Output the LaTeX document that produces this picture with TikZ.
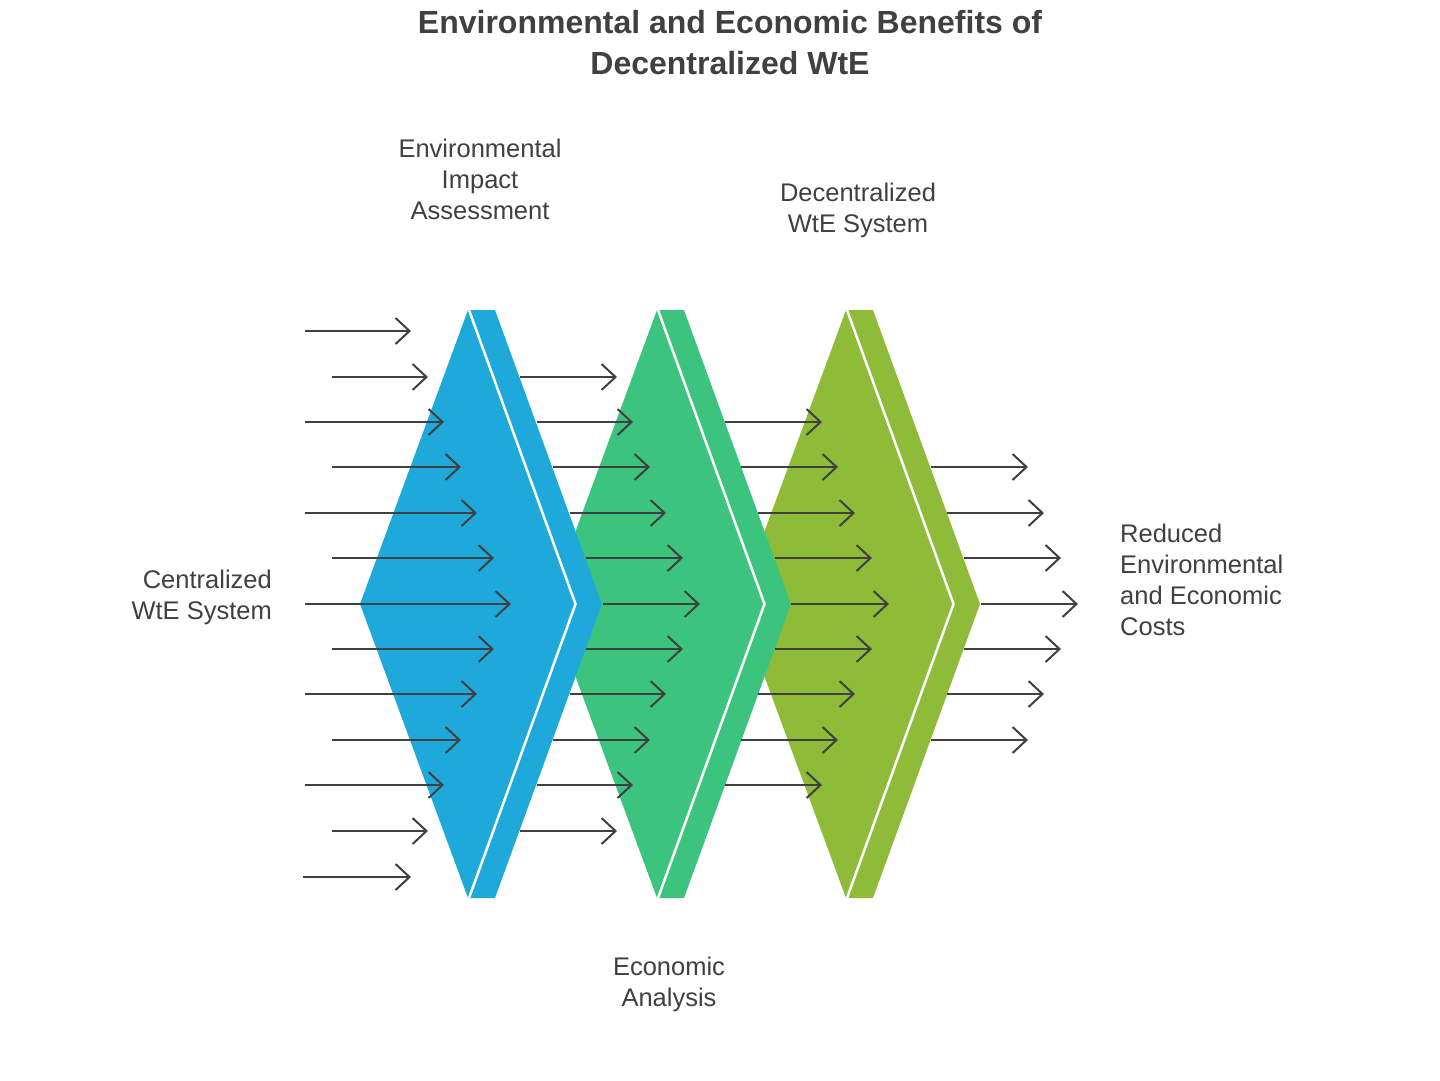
\documentclass[tikz,border=0pt]{standalone}
\usepackage{fontspec}
\setmainfont{Liberation Sans}
\usetikzlibrary{arrows.meta}
\definecolor{cblue}{HTML}{1FA9DB}
\definecolor{cgreen}{HTML}{3CC47F}
\definecolor{colive}{HTML}{8EBB38}
\definecolor{ctext}{HTML}{404040}
\tikzset{
  flowarrow/.style={draw=ctext, line width=2pt, -{Straight Barb[length=14pt,width=26pt,line width=2pt]}},
  sepline/.style={draw=white, line width=2.5pt},
  lbl/.style={text=ctext, font=\fontsize{25.5}{31}\selectfont, inner sep=0pt},
  ttl/.style={text=ctext, font=\fontsize{32}{41}\selectfont\bfseries, inner sep=0pt, align=center}
}
\begin{document}
\begin{tikzpicture}[x=1pt,y=-1pt]
\useasboundingbox (0,0) rectangle (1440,1080);
\fill[white] (0,0) rectangle (1440,1080);
% shapes
\fill[colive] (846,310) -- (873,310) -- (980,604) -- (873,898) -- (846,898) -- (765,678) -- (765,530) -- cycle;
\fill[cgreen] (657,310) -- (684,310) -- (791,604) -- (684,898) -- (657,898) -- (576,678) -- (576,530) -- cycle;
\fill[cblue] (468,310) -- (495,310) -- (602,604) -- (495,898) -- (468,898) -- (360,604) -- cycle;
\draw[sepline] (469,310) -- (575.5,604) -- (469,898);
\draw[sepline] (658,310) -- (764.5,604) -- (658,898);
\draw[sepline] (847,310) -- (953.5,604) -- (847,898);
% arrows group 1
\foreach \y/\a/\b in {331/305/411, 377/332/428, 422/305/444, 467/332/461, 513/305/477, 558/332/494, 604/305/511, 649/332/494, 694/305/477, 740/332/461, 785/305/444, 831/332/428, 877/303/411}{
  \coordinate (s) at (\a,\y); \coordinate (e) at (\b,\y);
  \draw[flowarrow] (s) -- (e);
}
% group 2
\foreach \y/\a/\b in {377/520/617, 422/537/633, 467/553/650, 513/570/666, 558/586/683, 604/603/700, 649/586/683, 694/570/666, 740/553/650, 785/537/633, 831/520/617}{
  \coordinate (s) at (\a,\y); \coordinate (e) at (\b,\y);
  \draw[flowarrow] (s) -- (e);
}
% group 3
\foreach \y/\a/\b in {422/725/822, 467/741/838, 513/758/855, 558/775/872, 604/791/889, 649/775/872, 694/758/855, 740/741/838, 785/725/822}{
  \coordinate (s) at (\a,\y); \coordinate (e) at (\b,\y);
  \draw[flowarrow] (s) -- (e);
}
% group 4
\foreach \y/\a/\b in {467/931/1028, 513/947/1044, 558/964/1061, 604/981/1078, 649/964/1061, 694/947/1044, 740/931/1028}{
  \coordinate (s) at (\a,\y); \coordinate (e) at (\b,\y);
  \draw[flowarrow] (s) -- (e);
}
% texts
\node[ttl] (title) at (730,43) {Environmental and Economic Benefits of\\Decentralized WtE};
\node[lbl, align=center] (eia) at (480,179) {Environmental\\Impact\\Assessment};
\node[lbl, align=center] (dws) at (858,210) {Decentralized\\WtE System};
\node[lbl, align=right, anchor=east] (cws) at (272,597) {Centralized\\WtE System};
\node[lbl, align=left, anchor=west] (red) at (1120,580) {Reduced\\Environmental\\and Economic\\Costs};
\node[lbl, align=center] (eca) at (669,984) {Economic\\Analysis};
\end{tikzpicture}
\end{document}
